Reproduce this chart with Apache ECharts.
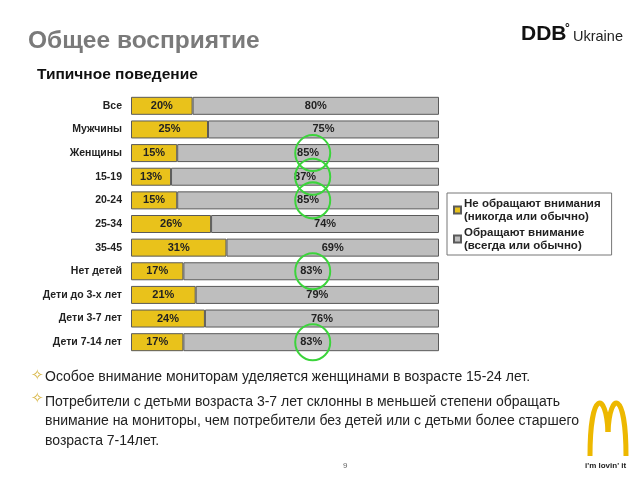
<!DOCTYPE html>
<html><head><meta charset="utf-8">
<script src="https://cdn.jsdelivr.net/npm/echarts@6/dist/echarts.min.js"></script>
<style>html,body{margin:0;padding:0;background:#fff}#c{width:640px;height:480px}</style>
</head><body><div id="c"></div>
<script>
var categories = ['Все','Мужчины','Женщины','15-19','20-24','25-34','35-45','Нет детей','Дети до 3-х лет','Дети 3-7 лет','Дети 7-14 лет'];
var notAttentive = [20,25,15,13,15,26,31,17,21,24,17];
var attentive = [80,75,85,87,85,74,69,83,79,76,83];
var seriesNames = ['Не обращают внимания\n(никогда или обычно)','Обращают внимание\n(всегда или обычно)'];
var circled = ['Женщины','15-19','20-24','Нет детей','Дети 7-14 лет'];
var circleX = 59;

var FONT = 'Liberation Sans, Arial, sans-serif';
var chart = echarts.init(document.getElementById('c'), null, {renderer:'canvas'});
var lbl = {show:true, position:'inside', formatter:'{c}%', color:'#222', fontWeight:'bold', fontSize:11, fontFamily:FONT};
chart.setOption({
  animation:false,
  backgroundColor:'#fff',
  grid:{left:131, right:201, top:94, bottom:126},
  xAxis:{type:'value', min:0, max:100, show:false},
  yAxis:{type:'category', data:categories, inverse:true,
    axisLine:{show:false}, axisTick:{show:false}, splitLine:{show:false},
    axisLabel:{color:'#222', fontWeight:'bold', fontSize:10.5, fontFamily:FONT, margin:9}},
  legend:{
    orient:'vertical', left:447, top:193, width:166,
    padding:[4,11,3,6], itemGap:3,
    borderColor:'#777', borderWidth:1,
    itemWidth:7, itemHeight:7, icon:'rect',
    textStyle:{color:'#222', fontWeight:'bold', fontSize:11.5, fontFamily:FONT, lineHeight:13, padding:[0,0,0,-2]},
    data:seriesNames
  },
  series:[
    {name:seriesNames[0], type:'bar', stack:'s', barWidth:18, data:notAttentive,
     itemStyle:{color:'#E9C21B', borderColor:'#5a5a5a', borderWidth:1}, label:lbl},
    {name:seriesNames[1], type:'bar', stack:'s', barWidth:18, data:attentive,
     itemStyle:{color:'#BEBEBE', borderColor:'#5a5a5a', borderWidth:1}, label:lbl,
     markPoint:{
       symbol:'circle', symbolSize:[35,36], silent:true,
       itemStyle:{color:'rgba(0,0,0,0)', borderColor:'#3BD43B', borderWidth:2},
       label:{show:false},
       data:circled.map(function(c){return {coord:[circleX, c]};})
     }}
  ],
  graphic:[
    {type:'text', left:28, top:29, style:{text:'Общее восприятие', fill:'#7a7a7a', font:'bold 24.5px '+FONT}},
    {type:'text', left:37, top:67, style:{text:'Типичное поведение', fill:'#111', font:'bold 15.5px '+FONT}},
    {type:'text', left:521, top:24, style:{text:'DDB', fill:'#111', font:'bold 21px '+FONT}},
    {type:'text', left:565, top:23, style:{text:'°', fill:'#111', font:'bold 12px '+FONT}},
    {type:'text', left:573, top:29, style:{text:'Ukraine', fill:'#222', font:'14.5px '+FONT}},
    {type:'text', left:31, top:369, style:{text:'✧', fill:'#D9B84A', font:'15px DejaVu Sans'}},
    {type:'text', left:45, top:370, style:{text:'Особое внимание мониторам уделяется женщинами в возрасте 15-24 лет.', fill:'#222', font:'14px '+FONT}},
    {type:'text', left:31, top:392, style:{text:'✧', fill:'#D9B84A', font:'15px DejaVu Sans'}},
    {type:'text', left:45, top:392, style:{text:'Потребители с детьми возраста 3-7 лет склонны в меньшей степени обращать\nвнимание на мониторы, чем потребители без детей или с детьми более старшего\nвозраста 7-14лет.', fill:'#222', font:'14px '+FONT, lineHeight:19.5}},
    {type:'text', left:343, top:462, style:{text:'9', fill:'#666', font:'8px '+FONT}},
    {type:'bezierCurve', shape:{x1:590, y1:456, cpx1:590, cpy1:390, cpx2:606, cpy2:390, x2:608, y2:432},
     style:{fill:null, stroke:'#EDB800', lineWidth:5}},
    {type:'bezierCurve', shape:{x1:608, y1:432, cpx1:610, cpy1:390, cpx2:626, cpy2:390, x2:626, y2:456},
     style:{fill:null, stroke:'#EDB800', lineWidth:5}},
    {type:'text', left:585, top:462, style:{text:"i'm lovin' it", fill:'#222', font:'bold 8px '+FONT}}
  ]
});
</script></body></html>
